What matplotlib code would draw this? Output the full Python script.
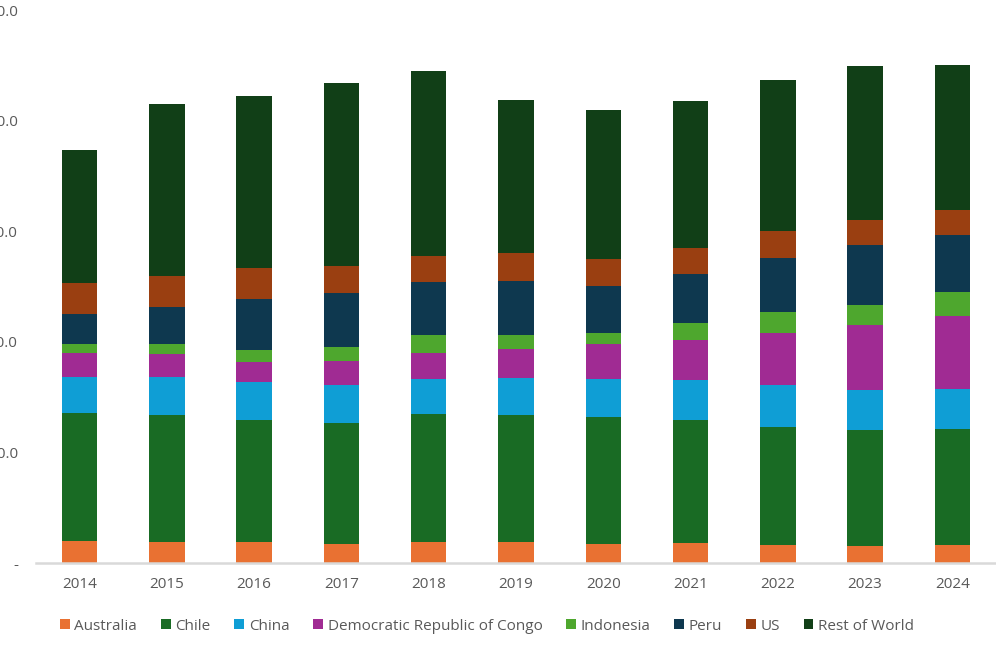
import matplotlib
matplotlib.use("Agg")
import matplotlib.pyplot as plt
from matplotlib.ticker import FuncFormatter, MultipleLocator
import numpy as np

years = ["2014", "2015", "2016", "2017", "2018", "2019", "2020", "2021", "2022", "2023", "2024"]
australia = [994, 949, 949, 859, 949, 949, 859, 904, 814, 768, 814]
chile = [5786, 5740, 5514, 5469, 5786, 5740, 5740, 5560, 5334, 5243, 5243]
china = [1627, 1718, 1718, 1718, 1582, 1672, 1718, 1808, 1898, 1808, 1808]
drc = [1085, 1040, 904, 1085, 1175, 1311, 1582, 1808, 2350, 2938, 3300]
indonesia = [407, 452, 542, 633, 814, 633, 497, 768, 949, 904, 1085]
peru = [1356, 1672, 2305, 2441, 2396, 2441, 2124, 2215, 2441, 2712, 2576]
us = [1401, 1401, 1401, 1220, 1175, 1266, 1220, 1175, 1220, 1130, 1130]
rest_of_world = [6012, 7774, 7774, 8272, 8362, 6916, 6735, 6644, 6825, 6961, 6554]

series_names = ["Australia", "Chile", "China", "Democratic Republic of Congo",
                "Indonesia", "Peru", "US", "Rest of World"]
series_values = [australia, chile, china, drc, indonesia, peru, us, rest_of_world]
colors = ["#E97132", "#196B24", "#0F9ED5", "#A02B93", "#4EA72E", "#0E384F", "#9A3F11", "#113F17"]

plt.rcParams['font.family'] = ['Open Sans', 'DejaVu Sans']
text_color = "#595959"

fig = plt.figure(figsize=(9.96, 6.45), dpi=100)
ax = fig.add_axes([36/996, 1 - 563/645, 1 - 36/996, (563 - 10)/645])

x = np.arange(len(years))
bottom = np.zeros(len(years))
handles = []
for name, vals, c in zip(series_names, series_values, colors):
    v = np.array(vals, dtype=float)
    h = ax.bar(x, v, width=0.406, bottom=bottom, color=c, label=name, linewidth=0)
    handles.append(h)
    bottom += v

ax.set_xlim(-0.5, len(years) - 0.5)
ax.set_ylim(0, 25000)
ax.yaxis.set_major_locator(MultipleLocator(5000))

def fmt(v, pos):
    if abs(v) < 1e-9:
        return "-"
    return f"{v:,.1f}"

ax.yaxis.set_major_formatter(FuncFormatter(fmt))
ax.set_xticks(x)
ax.set_xticklabels(years)
for s in ["top", "right", "left"]:
    ax.spines[s].set_visible(False)
ax.spines["bottom"].set_color("#D9D9D9")
ax.spines["bottom"].set_linewidth(1.8)
ax.tick_params(axis="both", length=0, colors=text_color, labelsize=11)
ax.tick_params(axis="y", pad=13)
ax.tick_params(axis="x", pad=10)

leg = fig.legend(handles=handles, labels=series_names, loc="center",
                 bbox_to_anchor=(487/996, 1 - 626/645), ncol=8, frameon=False,
                 handlelength=0.65, handleheight=0.65, handletextpad=0.3,
                 columnspacing=1.55, fontsize=11)
for t in leg.get_texts():
    t.set_color(text_color)

fig.savefig("out.png", dpi=100)
